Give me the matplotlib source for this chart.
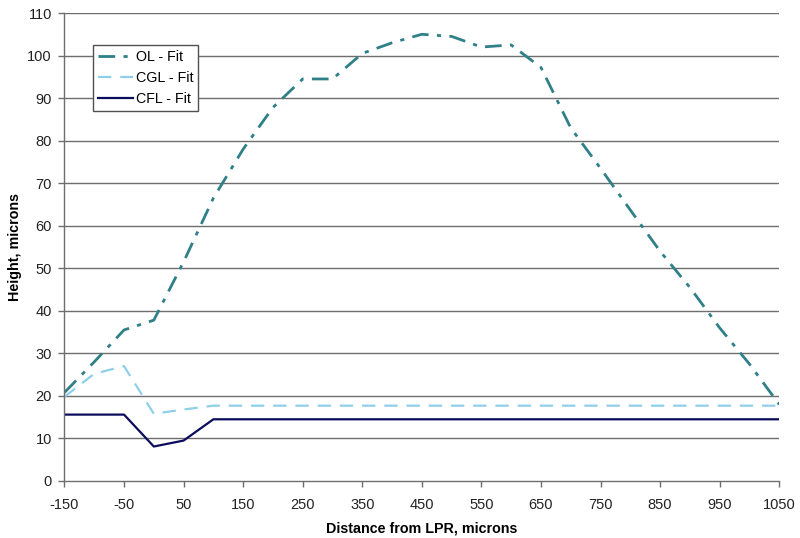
import matplotlib
matplotlib.use("Agg")
import matplotlib.pyplot as plt

plt.rcParams['font.family'] = ['Liberation Sans', 'DejaVu Sans']
plt.rcParams['axes.unicode_minus'] = False

x_ol = [-150, -100, -50, 0, 50, 100, 150, 200, 250, 300, 350, 400, 450, 500,
        550, 600, 650, 700, 750, 800, 850, 900, 950, 1000, 1050]
ol = [20.8, 28.0, 35.5, 37.8, 51.5, 66.5, 78.0, 87.8, 94.5, 94.5, 100.5, 103.0,
      105.0, 104.5, 102.0, 102.5, 97.2, 83.0, 73.5, 63.7, 54.0, 45.5, 36.0, 27.5, 18.0]

x_cgl = [-150, -100, -50, 0, 50, 100, 1050]
cgl = [19.8, 25.2, 27.0, 15.8, 16.8, 17.7, 17.7]

x_cfl = [-150, -50, 0, 50, 100, 1050]
cfl = [15.6, 15.6, 8.1, 9.5, 14.5, 14.5]

xticks = list(range(-150, 1051, 100))
yticks = list(range(0, 111, 10))

fig = plt.figure(figsize=(8.0, 5.38), dpi=100)
ax = fig.add_axes([0.0806, 0.106, 0.8934, 0.8698])

grid_c = '#6e6e6e'
for y in yticks[1:]:
    ax.axhline(y, color=grid_c, lw=1.0, zorder=0)

ol_color = '#2f8088'
cgl_color = '#8fcfea'
cfl_color = '#0c0c5e'

ax.plot(x_ol, ol, color=ol_color, lw=2.0, linestyle=(0, (6, 3, 1.5, 3)), label='OL - Fit')
ax.plot(x_cgl, cgl, color=cgl_color, lw=1.6, linestyle=(0, (6, 4)), label='CGL - Fit')
ax.plot(x_cfl, cfl, color=cfl_color, lw=1.6, label='CFL - Fit')

ax.set_xlim(-150, 1050)
ax.set_ylim(0, 110)
ax.set_xticks(xticks)
ax.set_yticks(yticks)
ax.tick_params(axis='x', pad=8)
ax.tick_params(axis='y', pad=5)
ax.tick_params(axis='both', labelsize=10.5, color=grid_c, length=4, width=1.0,
               direction='out', labelcolor='#222222')
for s in ['top', 'right']:
    ax.spines[s].set_visible(False)
for s in ['left', 'bottom']:
    ax.spines[s].set_color(grid_c)
    ax.spines[s].set_linewidth(1.0)

ax.set_xlabel('Distance from LPR, microns', fontsize=10.3, fontweight='bold', labelpad=7)
ax.set_ylabel('Height, microns', fontsize=10.3, fontweight='bold', labelpad=4)

leg = ax.legend(loc='upper left', bbox_to_anchor=(0.0405, 0.932), fontsize=10.3,
                frameon=True, fancybox=False, edgecolor='#505050', framealpha=1,
                handlelength=2.45, handletextpad=0.15, borderpad=0.35, labelspacing=0.5,
                borderaxespad=0)
leg.get_frame().set_linewidth(1.0)

fig.savefig('out.png', dpi=100)
